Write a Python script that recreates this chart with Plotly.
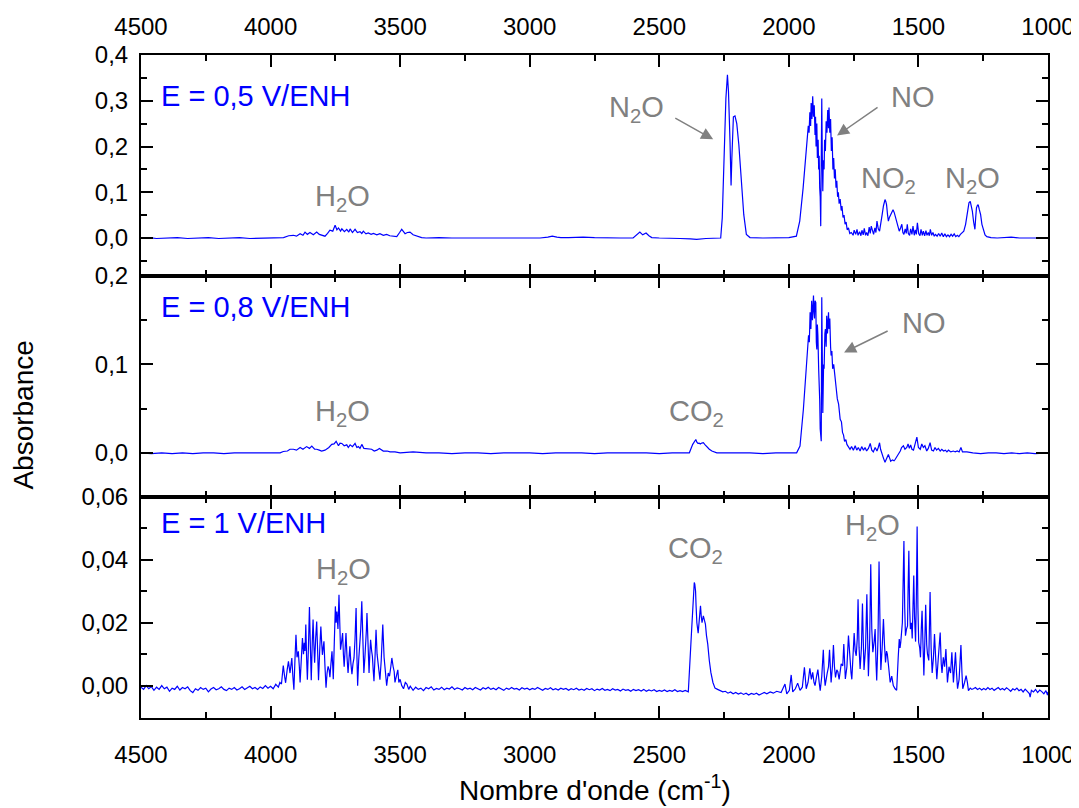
import plotly.graph_objects as go
from plotly.subplots import make_subplots

# ---------------- data ----------------
# Panel 1 : E = 0,5 V/ENH
wn_05 = [4500, 4470, 4440, 4400, 4360, 4320, 4280, 4240, 4200, 4160, 4120, 4080, 4040, 4000,
         3970, 3950, 3930, 3912, 3900, 3886, 3875, 3867, 3858, 3848, 3835, 3822, 3812, 3803, 3790,
         3780, 3771, 3760, 3751, 3744, 3738, 3730, 3725, 3715, 3706, 3698, 3693, 3684, 3674, 3665,
         3655, 3648, 3642, 3632, 3623, 3612, 3603, 3590, 3578, 3565, 3552, 3540, 3526, 3513, 3502,
         3494, 3487, 3481, 3472, 3462, 3450, 3436, 3417, 3400, 3350, 3300, 3250, 3200, 3150, 3100,
         3050, 3000, 2960, 2930, 2913, 2895, 2880, 2850, 2794, 2750, 2700, 2650, 2601, 2585, 2575,
         2564, 2551, 2540, 2529, 2500, 2469, 2420, 2380, 2356, 2320, 2290, 2263, 2257, 2250, 2243,
         2237, 2233, 2227, 2223, 2220, 2214, 2208, 2201, 2193, 2184, 2174, 2164, 2150, 2100, 2050,
         2000, 1971, 1958, 1945, 1932, 1928, 1925, 1922, 1919, 1916, 1914, 1911, 1908, 1905, 1902,
         1899, 1897, 1895, 1892, 1890, 1887, 1885, 1883, 1881, 1879, 1877, 1875, 1873, 1871, 1869,
         1867, 1864, 1862, 1859, 1856, 1853, 1850, 1847, 1845, 1842, 1839, 1836, 1833, 1830, 1827,
         1824, 1821, 1818, 1815, 1812, 1809, 1806, 1802, 1798, 1795, 1791, 1787, 1783, 1779, 1775,
         1770, 1765, 1759, 1752, 1748, 1742, 1737, 1733, 1727, 1722, 1718, 1713, 1709, 1704, 1700,
         1695, 1690, 1686, 1682, 1677, 1673, 1668, 1664, 1660, 1655, 1650, 1645, 1640, 1635, 1629,
         1626, 1623, 1619, 1616, 1612, 1607, 1602, 1598, 1593, 1587, 1582, 1578, 1574, 1569, 1564,
         1560, 1556, 1551, 1547, 1543, 1539, 1534, 1530, 1525, 1521, 1516, 1512, 1508, 1504, 1499,
         1494, 1490, 1485, 1481, 1476, 1471, 1467, 1462, 1458, 1454, 1449, 1444, 1439, 1434, 1428,
         1422, 1416, 1410, 1404, 1398, 1392, 1386, 1380, 1374, 1368, 1362, 1356, 1350, 1344, 1338,
         1332, 1325, 1318, 1313, 1309, 1305, 1300, 1296, 1292, 1287, 1282, 1279, 1276, 1272, 1269,
         1265, 1260, 1255, 1249, 1243, 1236, 1220, 1196, 1170, 1142, 1110, 1076, 1040, 1000]
abs_05 = [0.000, 0.001, -0.001, 0.000, 0.001, -0.001, 0.000, 0.001, -0.001, 0.000, 0.001, -0.001, 0.000, 0.000,
          0.002, 0.001, 0.005, 0.006, 0.004, 0.0095, 0.006, 0.013, 0.008, 0.012, 0.007, 0.013, 0.008, 0.007, 0.004,
          0.010, 0.017, 0.015, 0.028, 0.018, 0.022, 0.015, 0.020, 0.014, 0.019, 0.013, 0.020, 0.012, 0.019, 0.012,
          0.014, 0.010, 0.015, 0.009, 0.011, 0.008, 0.010, 0.007, 0.0095, 0.006, 0.008, 0.005, 0.004, 0.003, 0.012,
          0.019, 0.014, 0.0095, 0.012, 0.013, 0.007, 0.004, 0.001, 0.000, 0.001, 0.000, 0.000, 0.001, 0.000, 0.000,
          0.001, 0.000, 0.000, 0.002, 0.004, 0.002, 0.001, 0.001, 0.002, 0.001, 0.000, 0.000, 0.000, 0.008, 0.013,
          0.007, 0.011, 0.005, 0.001, 0.000, -0.001, -0.001, -0.002, -0.003, -0.001, 0.000, 0.000, 0.044, 0.175, 0.305,
          0.357, 0.320, 0.210, 0.115, 0.175, 0.265, 0.267, 0.250, 0.204, 0.124, 0.051, 0.008, 0.001, 0.000, 0.000,
          0.001, 0.004, 0.037, 0.109, 0.196, 0.215, 0.245, 0.230, 0.275, 0.245, 0.295, 0.260, 0.310, 0.265, 0.290,
          0.225, 0.265, 0.200, 0.250, 0.175, 0.215, 0.150, 0.180, 0.110, 0.090, 0.026, 0.120, 0.305, 0.180, 0.102,
          0.170, 0.150, 0.215, 0.190, 0.255, 0.230, 0.280, 0.240, 0.285, 0.230, 0.260, 0.190, 0.220, 0.150, 0.175,
          0.130, 0.150, 0.110, 0.125, 0.090, 0.100, 0.075, 0.085, 0.060, 0.070, 0.045, 0.050, 0.030, 0.035, 0.018,
          0.022, 0.010, 0.012, 0.006, 0.017, 0.008, 0.019, 0.006, 0.014, 0.005, 0.017, 0.007, 0.021, 0.006, 0.012,
          0.005, 0.024, 0.010, 0.026, 0.012, 0.008, 0.022, 0.012, 0.037, 0.020, 0.015, 0.030, 0.051, 0.070, 0.084,
          0.080, 0.073, 0.050, 0.037, 0.045, 0.051, 0.060, 0.062, 0.055, 0.044, 0.030, 0.022, 0.015, 0.022, 0.030,
          0.012, 0.008, 0.020, 0.010, 0.030, 0.010, 0.006, 0.020, 0.008, 0.026, 0.006, 0.018, 0.008, 0.033, 0.010,
          0.005, 0.019, 0.006, 0.015, 0.005, 0.016, 0.006, 0.012, 0.005, 0.019, 0.006, 0.012, 0.004, 0.008, 0.004,
          0.010, 0.004, 0.011, 0.003, 0.009, 0.003, 0.007, 0.003, 0.008, 0.004, 0.009, 0.003, 0.006, 0.003, 0.008,
          0.012, 0.015, 0.030, 0.050, 0.070, 0.077, 0.080, 0.072, 0.059, 0.035, 0.019, 0.045, 0.066, 0.072, 0.072,
          0.062, 0.051, 0.030, 0.015, 0.007, 0.003, 0.001, 0.000, 0.001, 0.002, 0.000, 0.000, 0.001, 0.000]

# Panel 2 : E = 0,8 V/ENH
wn_08 = [4500, 4460, 4420, 4380, 4340, 4300, 4260, 4220, 4180, 4140, 4100, 4060, 4020, 3990, 3963,
         3951, 3935, 3925, 3912, 3900, 3886, 3875, 3861, 3850, 3841, 3830, 3822, 3812, 3803, 3790,
         3783, 3775, 3764, 3755, 3747, 3742, 3738, 3732, 3725, 3716, 3706, 3700, 3693, 3684, 3674,
         3667, 3661, 3655, 3648, 3640, 3629, 3620, 3610, 3600, 3590, 3580, 3565, 3550, 3539, 3520,
         3500, 3450, 3400, 3350, 3300, 3250, 3200, 3150, 3100, 3050, 3000, 2950, 2900, 2850, 2800,
         2750, 2700, 2650, 2600, 2550, 2500, 2450, 2400, 2384, 2371, 2363, 2359, 2355, 2351, 2346,
         2342, 2336, 2330, 2323, 2317, 2307, 2297, 2278, 2250, 2200, 2150, 2100, 2050, 2000, 1970,
         1957, 1944, 1933, 1928, 1924, 1921, 1918, 1915, 1912, 1909, 1905, 1903, 1901, 1899, 1896,
         1894, 1892, 1890, 1888, 1885, 1883, 1881, 1879, 1877, 1875, 1873, 1871, 1869, 1866, 1864,
         1861, 1859, 1856, 1854, 1851, 1847, 1845, 1842, 1839, 1837, 1834, 1831, 1827, 1822, 1818,
         1813, 1808, 1802, 1797, 1793, 1789, 1785, 1780, 1776, 1770, 1764, 1758, 1751, 1744, 1738,
         1732, 1725, 1719, 1712, 1706, 1700, 1693, 1686, 1680, 1674, 1667, 1660, 1655, 1650, 1646,
         1641, 1635, 1629, 1622, 1616, 1611, 1607, 1600, 1594, 1590, 1584, 1577, 1570, 1565, 1558,
         1552, 1545, 1540, 1535, 1530, 1525, 1519, 1513, 1506, 1500, 1493, 1487, 1481, 1475, 1468,
         1462, 1455, 1449, 1442, 1436, 1430, 1423, 1416, 1410, 1403, 1396, 1390, 1384, 1375, 1365,
         1358, 1350, 1343, 1336, 1330, 1320, 1313, 1290, 1260, 1230, 1200, 1170, 1140, 1110, 1080,
         1050, 1020, 1000]
abs_08 = [0.000, -0.001, 0.000, -0.001, 0.000, -0.001, 0.000, 0.000, -0.001, 0.000, 0.000, 0.000, 0.000, 0.000, 0.000,
          0.0015, 0.002, 0.004, 0.004, 0.003, 0.006, 0.004, 0.007, 0.005, 0.0076, 0.004, 0.004, 0.003, 0.002, 0.003,
          0.004, 0.006, 0.0095, 0.010, 0.013, 0.009, 0.008, 0.011, 0.0106, 0.008, 0.009, 0.006, 0.009, 0.007, 0.0106,
          0.006, 0.007, 0.005, 0.0095, 0.005, 0.0045, 0.004, 0.004, 0.002, 0.003, 0.005, 0.002, 0.002, 0.001, 0.001,
          0.000, 0.001, 0.000, 0.000, -0.001, 0.000, 0.000, -0.001, 0.000, 0.000, 0.000, -0.001, 0.000, 0.000, 0.000,
          -0.001, 0.000, 0.000, 0.000, 0.000, -0.001, 0.000, 0.000, 0.000, 0.0095, 0.013, 0.015, 0.012, 0.0106, 0.011,
          0.010, 0.011, 0.0114, 0.009, 0.007, 0.004, 0.002, 0.000, 0.000, 0.000, 0.000, -0.001, 0.000, 0.000, 0.000,
          0.0076, 0.049, 0.095, 0.115, 0.133, 0.125, 0.159, 0.140, 0.172, 0.150, 0.178, 0.160, 0.152, 0.172, 0.170,
          0.125, 0.117, 0.145, 0.133, 0.095, 0.083, 0.060, 0.027, 0.020, 0.013, 0.176, 0.090, 0.045, 0.100, 0.095,
          0.135, 0.140, 0.120, 0.155, 0.135, 0.159, 0.140, 0.152, 0.120, 0.110, 0.115, 0.095, 0.100, 0.080, 0.075,
          0.061, 0.055, 0.038, 0.035, 0.023, 0.020, 0.013, 0.015, 0.0095, 0.006, 0.004, 0.007, 0.003, 0.008, 0.003,
          0.006, 0.002, 0.007, 0.003, 0.006, 0.002, 0.005, 0.0106, 0.003, 0.001, 0.006, 0.002, 0.006, 0.0114, 0.004,
          -0.002, -0.006, -0.0106, -0.006, -0.002, -0.006, -0.0095, -0.008, -0.009, -0.0076, -0.005, -0.002, 0.002, 0.006, 0.008,
          0.004, 0.006, 0.010, 0.005, 0.009, 0.004, 0.003, 0.009, 0.0178, 0.006, 0.004, 0.010, 0.006, 0.008, 0.002,
          0.005, 0.0114, 0.003, 0.002, 0.006, 0.003, 0.005, 0.002, 0.004, 0.002, 0.003, 0.001, 0.003, 0.001, 0.002,
          0.001, 0.002, 0.001, 0.006, 0.001, 0.001, 0.001, 0.000, -0.001, 0.000, 0.000, -0.001, 0.000, -0.001, 0.000,
          -0.001, 0.000, 0.000]

# Panel 3 : E = 1 V/ENH
wn_1 = [4500, 4490, 4480, 4470, 4460, 4450, 4440, 4430, 4420, 4410, 4400, 4390, 4380, 4370, 4360,
        4350, 4340, 4330, 4320, 4310, 4300, 4290, 4280, 4270, 4260, 4250, 4240, 4230, 4220, 4210,
        4200, 4190, 4180, 4170, 4160, 4150, 4140, 4130, 4120, 4110, 4100, 4090, 4080, 4070, 4060,
        4050, 4040, 4030, 4020, 4010, 4000, 3990, 3980, 3970, 3964, 3958, 3951, 3946, 3942, 3936,
        3931, 3925, 3918, 3914, 3910, 3906, 3902, 3898, 3893, 3889, 3886, 3881, 3877, 3873, 3870,
        3867, 3864, 3861, 3858, 3854, 3850, 3846, 3843, 3839, 3836, 3833, 3830, 3826, 3822, 3818,
        3815, 3810, 3806, 3803, 3800, 3797, 3794, 3790, 3786, 3782, 3778, 3774, 3771, 3767, 3763,
        3760, 3758, 3754, 3750, 3747, 3744, 3740, 3736, 3733, 3730, 3726, 3722, 3719, 3716, 3712,
        3709, 3705, 3701, 3697, 3694, 3690, 3686, 3682, 3678, 3674, 3670, 3667, 3664, 3660, 3655,
        3652, 3648, 3644, 3640, 3636, 3633, 3630, 3628, 3624, 3620, 3617, 3614, 3610, 3607, 3604,
        3601, 3597, 3593, 3589, 3585, 3581, 3578, 3573, 3567, 3562, 3558, 3555, 3552, 3546, 3541,
        3536, 3532, 3527, 3523, 3520, 3517, 3513, 3509, 3505, 3500, 3494, 3487, 3480, 3474, 3467,
        3461, 3450, 3440, 3430, 3420, 3410, 3400, 3390, 3380, 3370, 3360, 3350, 3340, 3330, 3320,
        3310, 3300, 3290, 3280, 3270, 3260, 3250, 3240, 3230, 3220, 3210, 3200, 3190, 3180, 3170,
        3160, 3150, 3140, 3130, 3120, 3110, 3100, 3090, 3080, 3070, 3060, 3050, 3040, 3030, 3020,
        3010, 3000, 2990, 2980, 2970, 2960, 2950, 2940, 2930, 2920, 2910, 2900, 2890, 2880, 2870,
        2860, 2850, 2840, 2830, 2820, 2810, 2800, 2790, 2780, 2770, 2760, 2750, 2740, 2730, 2720,
        2710, 2700, 2690, 2680, 2670, 2660, 2650, 2640, 2630, 2620, 2610, 2600, 2590, 2580, 2570,
        2560, 2550, 2540, 2530, 2520, 2510, 2500, 2490, 2480, 2470, 2460, 2450, 2440, 2430, 2420,
        2410, 2400, 2392, 2388, 2375, 2368, 2365, 2363, 2360, 2358, 2355, 2350, 2346, 2341, 2338,
        2335, 2330, 2326, 2322, 2318, 2313, 2307, 2301, 2293, 2285, 2275, 2265, 2255, 2245, 2235,
        2225, 2215, 2205, 2195, 2185, 2175, 2165, 2155, 2145, 2135, 2125, 2115, 2105, 2095, 2085,
        2072, 2060, 2047, 2030, 2015, 2008, 1998, 1991, 1985, 1975, 1966, 1957, 1948, 1940, 1933,
        1926, 1919, 1913, 1908, 1903, 1899, 1893, 1888, 1883, 1879, 1873, 1867, 1863, 1860, 1852,
        1847, 1843, 1837, 1832, 1828, 1824, 1820, 1815, 1811, 1806, 1802, 1798, 1792, 1788, 1782,
        1776, 1770, 1764, 1760, 1757, 1752, 1748, 1744, 1740, 1736, 1733, 1729, 1725, 1720, 1716,
        1713, 1710, 1704, 1699, 1696, 1693, 1688, 1684, 1680, 1676, 1671, 1667, 1664, 1661, 1656,
        1652, 1648, 1645, 1640, 1635, 1631, 1627, 1623, 1620, 1615, 1609, 1603, 1597, 1590, 1584,
        1578, 1574, 1571, 1568, 1562, 1559, 1556, 1553, 1550, 1546, 1542, 1540, 1537, 1534, 1531,
        1527, 1524, 1521, 1518, 1515, 1511, 1508, 1505, 1502, 1499, 1495, 1492, 1489, 1486, 1482,
        1479, 1475, 1472, 1468, 1465, 1460, 1455, 1451, 1447, 1442, 1438, 1433, 1429, 1424, 1420,
        1416, 1412, 1409, 1404, 1399, 1394, 1390, 1388, 1382, 1376, 1371, 1368, 1365, 1360, 1357,
        1353, 1349, 1343, 1336, 1332, 1329, 1322, 1316, 1311, 1307, 1300, 1294, 1288, 1280, 1272,
        1264, 1256, 1248, 1240, 1232, 1224, 1216, 1208, 1200, 1192, 1184, 1176, 1168, 1160, 1152,
        1144, 1136, 1128, 1120, 1112, 1104, 1096, 1088, 1080, 1072, 1069, 1064, 1056, 1048, 1040,
        1032, 1024, 1016, 1008, 1002, 1000]
abs_1 = [-0.0005, -0.0012, 0.0000, -0.0010, -0.0003, -0.0015, -0.0005, -0.0012, 0.0000, -0.0010, -0.0005, -0.0018, -0.0008, -0.0012, -0.0002,
         -0.0014, -0.0006, -0.0010, -0.0004, -0.0016, -0.0022, -0.0010, -0.0015, -0.0006, -0.0012, -0.0008, -0.0020, -0.0011, -0.0006, -0.0013,
         -0.0010, -0.0004, -0.0012, -0.0016, -0.0008, -0.0012, -0.0006, -0.0014, -0.0010, -0.0004, -0.0012, -0.0008, -0.0002, -0.0010, -0.0006,
         -0.0012, -0.0004, -0.0009, 0.0000, -0.0008, -0.0002, -0.0010, 0.0004, -0.0005, 0.0010, 0.0005, 0.0064, 0.0030, 0.0009, 0.0050,
         0.0077, 0.0040, 0.0088, 0.0030, -0.0013, 0.0080, 0.0162, 0.0090, 0.0109, 0.0060, 0.0010, 0.0090, 0.0151, 0.0100, 0.0136,
         0.0110, 0.0194, 0.0090, 0.0019, 0.0120, 0.0250, 0.0110, 0.0017, 0.0140, 0.0210, 0.0130, 0.0073, 0.0150, 0.0204, 0.0100,
         0.0017, 0.0120, 0.0188, 0.0140, 0.0098, 0.0120, 0.0141, 0.0060, -0.0007, 0.0040, 0.0061, 0.0050, 0.0027, 0.0070, 0.0109,
         0.0060, 0.0020, 0.0140, 0.0252, 0.0200, 0.0236, 0.0180, 0.0289, 0.0200, 0.0114, 0.0140, 0.0167, 0.0100, 0.0060, 0.0120,
         0.0167, 0.0090, 0.0040, 0.0090, 0.0125, 0.0070, 0.0036, 0.0070, 0.0088, 0.0150, 0.0247, 0.0100, 0.0000, 0.0080, 0.0131,
         0.0180, 0.0268, 0.0120, 0.0040, 0.0090, 0.0125, 0.0180, 0.0231, 0.0100, 0.0040, 0.0100, 0.0146, 0.0110, 0.0093, 0.0050,
         0.0014, 0.0090, 0.0178, 0.0100, 0.0061, 0.0040, 0.0019, 0.0080, 0.0194, 0.0090, 0.0050, 0.0020, 0.0000, 0.0040, 0.0030,
         0.0060, 0.0088, 0.0060, 0.0045, 0.0010, 0.0020, 0.0040, 0.0050, 0.0010, 0.0020, 0.0000, -0.0010, 0.0010, 0.0005, -0.0012,
         -0.0002, -0.0015, -0.0005, -0.0012, -0.0008, -0.0016, -0.0006, -0.0010, -0.0004, -0.0014, -0.0009, -0.0012, -0.0005, -0.0013, -0.0008,
         -0.0011, -0.0004, -0.0012, -0.0007, -0.0010, -0.0014, -0.0006, -0.0011, -0.0008, -0.0013, -0.0006, -0.0010, -0.0014, -0.0007, -0.0011,
         -0.0005, -0.0012, -0.0008, -0.0013, -0.0006, -0.0010, -0.0015, -0.0008, -0.0012, -0.0006, -0.0011, -0.0009, -0.0014, -0.0007, -0.0011,
         -0.0008, -0.0013, -0.0009, -0.0012, -0.0006, -0.0011, -0.0015, -0.0009, -0.0012, -0.0007, -0.0013, -0.0010, -0.0014, -0.0008, -0.0012,
         -0.0009, -0.0015, -0.0010, -0.0013, -0.0008, -0.0014, -0.0011, -0.0015, -0.0009, -0.0013, -0.0010, -0.0016, -0.0011, -0.0014, -0.0009,
         -0.0015, -0.0012, -0.0016, -0.0010, -0.0014, -0.0012, -0.0017, -0.0011, -0.0015, -0.0013, -0.0018, -0.0012, -0.0016, -0.0013, -0.0017,
         -0.0012, -0.0018, -0.0014, -0.0017, -0.0013, -0.0019, -0.0015, -0.0018, -0.0014, -0.0019, -0.0015, -0.0018, -0.0013, -0.0019, -0.0016,
         -0.0019, -0.0015, -0.0018, -0.0020, 0.0180, 0.0300, 0.0328, 0.0323, 0.0300, 0.0254, 0.0200, 0.0167, 0.0220, 0.0254, 0.0220,
         0.0200, 0.0222, 0.0210, 0.0196, 0.0160, 0.0132, 0.0080, 0.0042, 0.0010, -0.0008, -0.0012, -0.0015, -0.0020, -0.0018, -0.0024,
         -0.0020, -0.0026, -0.0022, -0.0027, -0.0023, -0.0028, -0.0024, -0.0030, -0.0025, -0.0028, -0.0024, -0.0030, -0.0026, -0.0022, -0.0026,
         -0.0020, -0.0024, -0.0018, -0.0022, 0.0005, -0.0026, -0.0015, 0.0034, -0.0020, -0.0010, 0.0008, -0.0015, -0.0005, 0.0058, -0.0010,
         0.0010, 0.0055, 0.0020, 0.0042, 0.0010, 0.0000, 0.0030, 0.0051, 0.0010, -0.0016, 0.0030, 0.0114, 0.0030, 0.0000, 0.0040,
         0.0060, 0.0114, 0.0010, 0.0060, 0.0129, 0.0060, 0.0026, 0.0050, 0.0044, 0.0020, 0.0050, 0.0069, 0.0063, 0.0132, 0.0021,
         0.0060, 0.0159, 0.0074, 0.0040, 0.0020, 0.0090, 0.0167, 0.0110, 0.0095, 0.0150, 0.0275, 0.0120, 0.0053, 0.0120, 0.0261,
         0.0150, 0.0050, 0.0120, 0.0291, 0.0150, 0.0030, 0.0150, 0.0386, 0.0180, 0.0106, 0.0140, 0.0180, 0.0080, 0.0016, 0.0150,
         0.0395, 0.0180, 0.0050, 0.0120, 0.0212, 0.0130, 0.0074, 0.0110, 0.0100, 0.0060, 0.0010, 0.0030, 0.0000, -0.0010, -0.0015,
         0.0090, 0.0148, 0.0120, 0.0140, 0.0200, 0.0300, 0.0460, 0.0250, 0.0159, 0.0180, 0.0190, 0.0300, 0.0429, 0.0250, 0.0180,
         0.0200, 0.0150, 0.0250, 0.0350, 0.0220, 0.0140, 0.0280, 0.0506, 0.0250, 0.0138, 0.0120, 0.0090, 0.0180, 0.0238, 0.0120,
         0.0032, 0.0150, 0.0257, 0.0130, 0.0100, 0.0080, 0.0298, 0.0120, 0.0040, 0.0090, 0.0164, 0.0080, 0.0020, 0.0080, 0.0120,
         0.0169, 0.0070, 0.0040, 0.0090, 0.0060, 0.0116, 0.0040, 0.0010, 0.0060, 0.0040, 0.0106, 0.0050, 0.0010, 0.0070, 0.0106,
         0.0040, -0.0010, 0.0020, 0.0129, 0.0040, -0.0010, 0.0010, 0.0032, 0.0010, -0.0016, -0.0008, -0.0012, -0.0010, -0.0006, -0.0012,
         -0.0008, -0.0014, -0.0009, -0.0013, -0.0006, -0.0012, -0.0008, -0.0015, -0.0010, -0.0006, -0.0013, -0.0009, -0.0014, -0.0007, -0.0012,
         -0.0018, -0.0010, -0.0014, -0.0008, -0.0016, -0.0012, -0.0020, -0.0011, -0.0017, -0.0025, -0.0037, -0.0015, -0.0020, -0.0012, -0.0022,
         -0.0014, -0.0019, -0.0026, -0.0016, -0.0030, -0.0020]

# axes / ticks
x_tickvals = [4500, 4000, 3500, 3000, 2500, 2000, 1500, 1000]
x_ticktext = ["4500", "4000", "3500", "3000", "2500", "2000", "1500", "1000"]
y1_tickvals = [0.0, 0.1, 0.2, 0.3, 0.4]
y1_ticktext = ["0,0", "0,1", "0,2", "0,3", "0,4"]
y2_tickvals = [0.0, 0.1, 0.2]
y2_ticktext = ["0,0", "0,1", "0,2"]
y3_tickvals = [0.00, 0.02, 0.04, 0.06]
y3_ticktext = ["0,00", "0,02", "0,04", "0,06"]

# ---------------- figure ----------------
FONT = "Arial, Liberation Sans, sans-serif"
BLUE = "#0000FF"
GRAY = "#808080"

fig = make_subplots(rows=3, cols=1, shared_xaxes=True, vertical_spacing=0)

for i, (wn, ab) in enumerate([(wn_05, abs_05), (wn_08, abs_08), (wn_1, abs_1)]):
    fig.add_trace(go.Scatter(x=wn, y=ab, mode="lines",
                             line=dict(color=BLUE, width=1.2), showlegend=False),
                  row=i + 1, col=1)

axis_common = dict(showline=True, linecolor="black", linewidth=2, mirror="allticks",
                   ticks="inside", ticklen=12, tickwidth=2, tickcolor="black",
                   showgrid=False, zeroline=False, automargin=False,
                   tickfont=dict(family=FONT, size=24, color="black"))

for i in range(1, 4):
    fig.update_xaxes(range=[4500, 1000], tickmode="array", tickvals=x_tickvals, ticktext=x_ticktext,
                     minor=dict(dtick=250, tick0=0, ticks="inside", ticklen=6, tickwidth=2,
                                tickcolor="black", showgrid=False),
                     **axis_common, row=i, col=1)

fig.update_xaxes(side="top", showticklabels=True, ticklabelstandoff=8, row=1, col=1)
fig.update_xaxes(showticklabels=False, row=2, col=1)
fig.update_xaxes(showticklabels=True, ticklabelstandoff=14, row=3, col=1)

fig.update_yaxes(range=[-0.083, 0.4], tickmode="array", tickvals=y1_tickvals, ticktext=y1_ticktext,
                 minor=dict(dtick=0.05, tick0=0, ticks="inside", ticklen=6, tickwidth=2, tickcolor="black"),
                 ticklabelstandoff=6, **axis_common, row=1, col=1)
fig.update_yaxes(range=[-0.05, 0.2], tickmode="array", tickvals=y2_tickvals, ticktext=y2_ticktext,
                 minor=dict(dtick=0.05, tick0=0, ticks="inside", ticklen=6, tickwidth=2, tickcolor="black"),
                 ticklabelstandoff=6, **axis_common, row=2, col=1)
fig.update_yaxes(range=[-0.0103, 0.06], tickmode="array", tickvals=y3_tickvals, ticktext=y3_ticktext,
                 minor=dict(dtick=0.01, tick0=0, ticks="inside", ticklen=6, tickwidth=2, tickcolor="black"),
                 ticklabelstandoff=6, **axis_common, row=3, col=1)

LBL = dict(family=FONT, size=29, color=GRAY)
ELBL = dict(family=FONT, size=29, color=BLUE)

annotations = [
    # potentials
    dict(text="E = 0,5 V/ENH", x=4430, y=0.31, xref="x", yref="y", xanchor="left", yanchor="middle", font=ELBL),
    dict(text="E = 0,8 V/ENH", x=4430, y=0.165, xref="x2", yref="y2", xanchor="left", yanchor="middle", font=ELBL),
    dict(text="E = 1 V/ENH", x=4430, y=0.0516, xref="x3", yref="y3", xanchor="left", yanchor="middle", font=ELBL),
    # panel 1 labels
    dict(text="H<sub>2</sub>O", x=3724, y=0.088, xref="x", yref="y", font=LBL),
    dict(text="N<sub>2</sub>O", x=2589, y=0.282, xref="x", yref="y", font=LBL),
    dict(text="NO", x=1522, y=0.308, xref="x", yref="y", font=LBL),
    dict(text="NO<sub>2</sub>", x=1617, y=0.127, xref="x", yref="y", font=LBL),
    dict(text="N<sub>2</sub>O", x=1291, y=0.127, xref="x", yref="y", font=LBL),
    # panel 2 labels
    dict(text="H<sub>2</sub>O", x=3724, y=0.045, xref="x2", yref="y2", font=LBL),
    dict(text="CO<sub>2</sub>", x=2358, y=0.045, xref="x2", yref="y2", font=LBL),
    dict(text="NO", x=1478, y=0.147, xref="x2", yref="y2", font=LBL),
    # panel 3 labels
    dict(text="H<sub>2</sub>O", x=3720, y=0.0365, xref="x3", yref="y3", font=LBL),
    dict(text="CO<sub>2</sub>", x=2360, y=0.043, xref="x3", yref="y3", font=LBL),
    dict(text="H<sub>2</sub>O", x=1679, y=0.0505, xref="x3", yref="y3", font=LBL),
]
for a in annotations:
    a.setdefault("showarrow", False)
    a.setdefault("xanchor", "center")
    a.setdefault("yanchor", "middle")

arrows = [
    dict(x=2292, y=0.2156, ax=2444, ay=0.264, xref="x", yref="y", axref="x", ayref="y"),
    dict(x=1814, y=0.224, ax=1652, ay=0.288, xref="x", yref="y", axref="x", ayref="y"),
    dict(x=1787, y=0.1136, ax=1613, ay=0.1386, xref="x2", yref="y2", axref="x2", ayref="y2"),
]
for a in arrows:
    a.update(text="", showarrow=True, arrowhead=2, arrowsize=1.6, arrowwidth=1.5, arrowcolor=GRAY)
    annotations.append(a)

annotations.append(dict(text="Absorbance", x=-0.129, y=0.4576, xref="paper", yref="paper",
                        textangle=-90, showarrow=False, xanchor="center", yanchor="middle",
                        font=dict(family=FONT, size=28, color="black")))
annotations.append(dict(text="Nombre d'onde (cm<sup>-1</sup>)", x=0.5, y=-0.106, xref="paper", yref="paper",
                        showarrow=False, xanchor="center", yanchor="middle",
                        font=dict(family=FONT, size=28, color="black")))

# the page adds an 8 px body margin, so the figure is made 8 px smaller and margins adjusted
fig.update_layout(width=1071, height=800, margin=dict(l=133, r=31, t=47, b=90, autoexpand=False),
                  plot_bgcolor="white", paper_bgcolor="white",
                  annotations=annotations, showlegend=False)

fig.write_html("out.html")
